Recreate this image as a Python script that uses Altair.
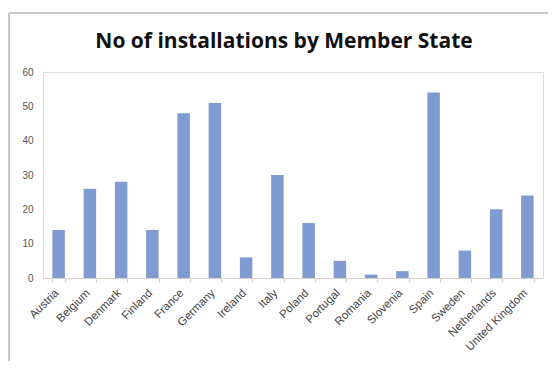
import altair as alt
import pandas as pd

countries = ["Austria", "Belgium", "Denmark", "Finland", "France", "Germany",
             "Ireland", "Italy", "Poland", "Portugal", "Romania", "Slovenia",
             "Spain", "Sweden", "Netherlands", "United Kingdom"]
installations = [14, 26, 28, 14, 48, 51, 6, 30, 16, 5, 1, 2, 54, 8, 20, 24]
y_ticks = [0, 10, 20, 30, 40, 50, 60]
title_text = "No of installations by Member State"

df = pd.DataFrame({"country": countries, "n": installations})

FONT = "Liberation Sans"

bars = alt.Chart(df).mark_bar(color="#7f9bd1").encode(
    x=alt.X("country:N", sort=countries, title=None,
            scale=alt.Scale(paddingInner=0.6, paddingOuter=0.3),
            axis=alt.Axis(labelAngle=-45, labelAlign="right", labelBaseline="middle",
                          labelFont=FONT, labelFontSize=11.5, labelColor="#444444",
                          domainColor="#d8d0c4", tickColor="#d8d0c4", tickSize=4,
                          tickBand="extent", labelPadding=9, labelOffset=-2,
                          grid=False)),
    y=alt.Y("n:Q", title=None,
            scale=alt.Scale(domain=[0, 60]),
            axis=alt.Axis(values=y_ticks, labelFont=FONT, labelFontSize=10,
                          labelColor="#555555", domain=False, ticks=False,
                          gridColor="#d9d9d9", gridWidth=1.2, labelPadding=10)),
)

# decorative outer frame (top and left edges; positions via fixed-range scales)
frame_df = pd.DataFrame({"x0": [0], "x1": [1]})
frame_color = "#c8c8c8"
fx = alt.Scale(domain=[0, 1], range=[-34, 506])
fy = alt.Scale(domain=[0, 1], range=[-59, 290])
frame_h = alt.Chart(frame_df).mark_rule(color=frame_color, strokeWidth=2).encode(
    x=alt.X("x0:Q", scale=fx, axis=None), x2="x1:Q",
    y=alt.Y("x0:Q", scale=fy, axis=None))
frame_v = alt.Chart(frame_df).mark_rule(color=frame_color, strokeWidth=2).encode(
    x=alt.X("x0:Q", scale=fx, axis=None),
    y=alt.Y("x0:Q", scale=fy, axis=None), y2="x1:Q")
frame = alt.layer(frame_h, frame_v)

title = alt.Chart(pd.DataFrame({"t": [title_text]})).mark_text(
    font="Open Sans", fontSize=21, fontWeight="bold", color="#111111",
    align="center", baseline="alphabetic"
).encode(text="t:N", x=alt.value(241), y=alt.value(-24))

chart = alt.layer(frame, bars, title).resolve_scale(
    x="independent", y="independent"
).properties(
    width=500, height=206,
    autosize=alt.AutoSizeParams(type="none"),
    padding={"left": 35, "top": 64, "right": 5, "bottom": 83},
).configure_view(stroke=None).configure(background="white")

chart.save("out.html", embed_options={"renderer": "svg", "actions": False})
